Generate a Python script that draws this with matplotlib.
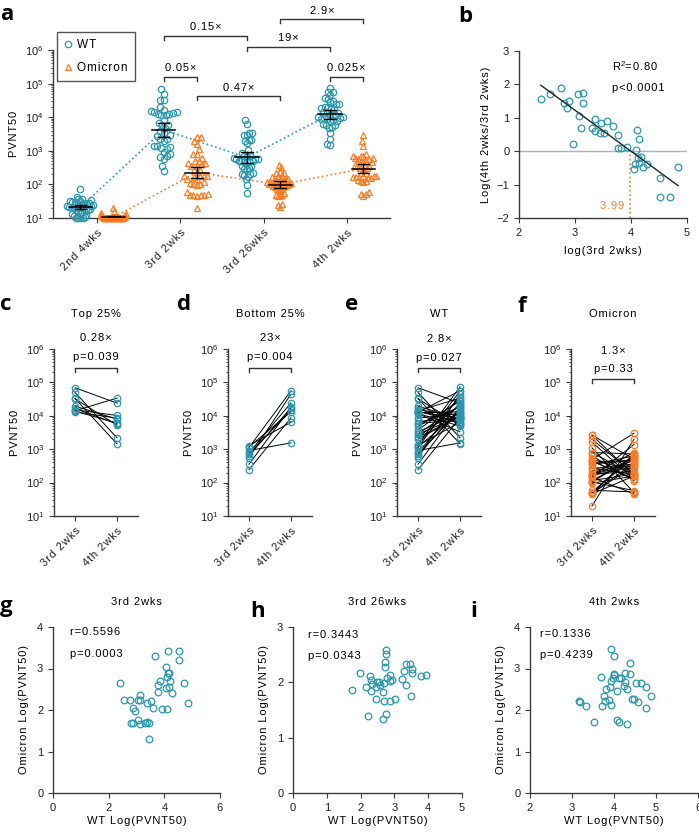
import numpy as np
import matplotlib
matplotlib.use('Agg')
import matplotlib.pyplot as plt
from matplotlib.ticker import LogLocator, LogFormatterMathtext, NullFormatter
from matplotlib.lines import Line2D

plt.rcParams['font.family'] = ['Liberation Sans', 'DejaVu Sans']
plt.rcParams['mathtext.default'] = 'regular'
plt.rcParams['font.size'] = 8
plt.rcParams['axes.linewidth'] = 1.0
plt.rcParams['axes.edgecolor'] = '#3a3a3a'
plt.rcParams['xtick.color'] = '#3a3a3a'
plt.rcParams['ytick.color'] = '#3a3a3a'
plt.rcParams['xtick.labelcolor'] = '#222222'
plt.rcParams['ytick.labelcolor'] = '#222222'
plt.rcParams['xtick.major.size'] = 3.5
plt.rcParams['ytick.major.size'] = 3.5
plt.rcParams['ytick.minor.size'] = 1.8
plt.rcParams['xtick.labelsize'] = 8
plt.rcParams['ytick.labelsize'] = 8

WT_COL = '#2a98b0'
OM_COL = '#ff7a22'

# log10 PVNT50 per subject (same subject order in every list, sorted by WT 3rd 2wks)
wt_3rd_2wks = [2.39, 2.55, 2.75, 2.81, 2.86, 2.89, 2.96, 3.05, 3.07, 3.11, 3.14, 3.14, 3.30,
               3.36, 3.36, 3.45, 3.46, 3.52, 3.58, 3.68, 3.76, 3.77, 3.83, 3.93, 4.06, 4.07,
               4.09, 4.11, 4.12, 4.14, 4.15, 4.18, 4.22, 4.29, 4.51, 4.52, 4.70, 4.84]
wt_4th_2wks = [3.94, 4.25, 4.65, 4.24, 4.16, 4.39, 3.19, 4.75, 4.12, 3.81, 4.87, 4.57, 4.00,
               4.31, 3.97, 3.99, 4.31, 4.07, 4.47, 4.44, 4.26, 3.88, 3.94, 4.07, 3.52, 3.69,
               4.12, 4.75, 3.93, 3.78, 4.53, 4.01, 3.76, 3.90, 3.72, 3.16, 3.34, 4.38]
om_3rd_2wks = [2.64, 2.25, 2.25, 1.69, 2.05, 1.69, 1.98, 2.24, 1.77, 2.36, 2.25, 1.66, 1.69,
               2.16, 1.72, 1.30, 1.68, 2.22, 2.06, 3.30, 2.60, 2.44, 2.69, 2.02, 3.04, 2.54,
               2.02, 2.80, 3.42, 2.90, 2.56, 2.90, 2.70, 2.42, 3.21, 3.42, 2.65, 2.16]
om_4th_2wks = [2.12, 2.90, 2.66, 2.58, 2.78, 2.86, 2.20, 2.56, 1.72, 2.50, 2.34, 2.20, 2.84,
               1.66, 2.76, 3.30, 2.50, 2.46, 2.26, 2.26, 2.68, 2.24, 3.48, 1.76, 1.70, 2.80,
               2.76, 2.06, 2.70, 2.22, 2.66, 2.86, 2.34, 2.56, 2.10, 2.22, 2.10, 3.14]
wt_3rd_26wks = [1.75, 1.98, 2.15, 2.21, 2.28, 2.31, 2.33, 2.31, 2.46, 2.46, 2.48, 2.55, 2.56,
                2.66, 2.66, 2.70, 2.70, 2.71, 2.71, 2.76, 2.76, 2.76, 2.78, 2.86, 2.86, 2.86,
                2.93, 3.01, 3.23, 3.28, 3.33, 3.33, 3.46, 3.48, 3.53, 3.53, 3.80, 3.93]
om_3rd_26wks = [1.86, 2.17, 1.91, 1.40, 2.12, 2.04, 1.97, 1.85, 1.69, 1.92, 2.01, 2.01, 1.96,
                1.82, 1.33, 1.99, 1.66, 2.27, 2.36, 2.58, 2.51, 1.42, 2.08, 2.14, 2.02, 1.66,
                2.04, 1.69, 2.06, 2.21, 2.33, 1.95, 2.33, 1.75, 2.25, 2.16, 2.11, 2.13]
wt_2nd_4wks = [1.85, 1.62, 1.58, 1.56, 1.54, 1.52, 1.50, 1.48, 1.47, 1.45, 1.44, 1.42, 1.41,
               1.40, 1.38, 1.37, 1.36, 1.35, 1.33, 1.32, 1.31, 1.30, 1.28, 1.27, 1.25, 1.24,
               1.22, 1.20, 1.18, 1.16, 1.13, 1.10, 1.07, 1.04, 1.0, 1.0, 1.0, 1.0]
om_2nd_4wks = [1.30, 1.20, 1.15, 1.12, 1.10, 1.08, 1.06, 1.05, 1.04, 1.03] + [1.0] * 28

timepoints = ['2nd 4wks', '3rd 2wks', '3rd 26wks', '4th 2wks']
fold_a = ['0.15\u00d7', '19\u00d7', '2.9\u00d7', '0.05\u00d7', '0.47\u00d7', '0.025\u00d7']
x_intercept = 3.99

W, H = 699, 833
fig = plt.figure(figsize=(W / 100, H / 100), dpi=100)


def sp(s):
    # Prism-style letter spacing
    return '\u200a'.join(s)


def axpx(l, t, r, b):
    return fig.add_axes([l / W, 1 - b / H, (r - l) / W, (b - t) / H])


def style(ax):
    ax.spines['top'].set_visible(False)
    ax.spines['right'].set_visible(False)


def logy(ax):
    ax.set_yscale('log')
    ax.set_ylim(10, 1e6)
    ax.yaxis.set_major_locator(LogLocator(base=10, numticks=10))
    ax.yaxis.set_major_formatter(LogFormatterMathtext())
    ax.yaxis.set_minor_locator(LogLocator(base=10, subs=np.arange(2, 10), numticks=20))
    ax.yaxis.set_minor_formatter(NullFormatter())


def swarm(ax, xc, vals, d=6.0, cap=13.0):
    pts = ax.transData.transform(np.column_stack([np.full(len(vals), xc), vals]))
    ypx = pts[:, 1]
    off = np.zeros(len(vals))
    placed = []
    for i in np.argsort(ypx):
        y = ypx[i]
        near = [(ox, oy) for ox, oy in placed if abs(oy - y) < d]
        cands = [0.0]
        for ox, oy in near:
            dx = np.sqrt(d * d - (oy - y) ** 2)
            cands += [ox - dx, ox + dx]
        cands.sort(key=abs)
        for c in cands:
            if all((c - ox) ** 2 + (y - oy) ** 2 >= d * d - 1e-6 for ox, oy in near):
                off[i] = c
                break
        placed.append((off[i], y))
    m = np.abs(off).max()
    if m > cap:
        off *= cap / m
    ppu = ax.transData.transform([(1, 1)])[0, 0] - ax.transData.transform([(0, 1)])[0, 0]
    return xc + off / ppu


def gm_ci(v):
    v = np.asarray(v)
    m = v.mean()
    se = v.std(ddof=1) / np.sqrt(len(v))
    return m, m - 2.026 * se, m + 2.026 * se


def bracket(ax, x1, x2, ylog, txt, tlog, h=0.12):
    ax.plot([x1, x1, x2, x2], 10 ** np.array([ylog - h, ylog, ylog, ylog - h]),
            color='#333333', lw=1.0, clip_on=False)
    ax.text((x1 + x2) / 2, 10 ** tlog, sp(txt), ha='center', va='center', fontsize=8)


# ---------------- panel a ----------------
ax = axpx(53, 50, 390, 218)
style(ax)
logy(ax)
ax.set_xlim(-0.53, 3.52)
wt_groups = [wt_2nd_4wks, wt_3rd_2wks, wt_3rd_26wks, wt_4th_2wks]
om_groups = [om_2nd_4wks, om_3rd_2wks, om_3rd_26wks, om_4th_2wks]
wt_pos = np.arange(4) - 0.2
om_pos = np.arange(4) + 0.2
wt_m, om_m = [], []
for k in range(4):
    for vals, xc, mk, col, store in [(wt_groups[k], wt_pos[k], 'o', WT_COL, wt_m),
                                     (om_groups[k], om_pos[k], '^', OM_COL, om_m)]:
        yv = 10 ** np.array(vals)
        xs = swarm(ax, xc, yv)
        ax.plot(xs, yv, ls='none', marker=mk, ms=4.6, mfc='none', mec=col, mew=0.9,
                clip_on=False, zorder=3)
        m, lo, hi = gm_ci(vals)
        store.append(m)
        ax.plot([xc - 0.14, xc + 0.14], [10 ** m] * 2, color='k', lw=1.1, zorder=4)
        ax.plot([xc, xc], [10 ** lo, 10 ** hi], color='k', lw=1.0, zorder=4)
        for yy in (lo, hi):
            ax.plot([xc - 0.07, xc + 0.07], [10 ** yy] * 2, color='k', lw=1.0, zorder=4)
ax.plot(wt_pos, 10 ** np.array(wt_m), ls=':', color=WT_COL, lw=1.2, zorder=2)
ax.plot(om_pos, 10 ** np.array(om_m), ls=':', color=OM_COL, lw=1.2, zorder=2)
ax.set_xticks(range(4))
ax.set_xticklabels([sp(t) for t in timepoints], rotation=45, ha='right',
                   rotation_mode='anchor')
ax.set_ylabel(sp('PVNT50'), labelpad=4)
bracket(ax, wt_pos[1], wt_pos[2], 6.42, fold_a[0], 6.68)
bracket(ax, wt_pos[2], wt_pos[3], 6.09, fold_a[1], 6.36)
bracket(ax, om_pos[2], om_pos[3], 6.92, fold_a[2], 7.15)
bracket(ax, wt_pos[1], om_pos[1], 5.20, fold_a[3], 5.46)
bracket(ax, om_pos[1], om_pos[2], 4.63, fold_a[4], 4.88)
bracket(ax, wt_pos[3], om_pos[3], 5.20, fold_a[5], 5.46)
handles = [Line2D([], [], ls='none', marker='o', ms=4.6, mfc='none', mec=WT_COL, mew=0.9),
           Line2D([], [], ls='none', marker='^', ms=4.6, mfc='none', mec=OM_COL, mew=0.9)]
leg = ax.legend(handles, [sp('WT'), sp('Omicron')], loc='upper left',
                bbox_to_anchor=(57 / W, 1 - 32 / H), bbox_transform=fig.transFigure,
                borderaxespad=0, fancybox=False, edgecolor='#555555', framealpha=1,
                fontsize=8.5, handlelength=0.6, handletextpad=0.5, labelspacing=0.9,
                borderpad=0.6)
leg.get_frame().set_linewidth(1.0)

# ---------------- panel b ----------------
bx = np.array(wt_3rd_2wks)
by = np.array(wt_4th_2wks) - bx
ax = axpx(519, 51, 687, 218)
style(ax)
ax.set_xlim(2, 5)
ax.set_ylim(-2, 3)
ax.set_xticks([2, 3, 4, 5])
ax.set_yticks(range(-2, 4))
ax.axhline(0, color='#b0b0b0', lw=1.0, zorder=1)
ax.plot(bx, by, ls='none', marker='o', ms=4.8, mfc='none', mec=WT_COL, mew=0.9, zorder=3)
sl, ic = np.polyfit(bx, by, 1)
xx = np.array([bx.min(), bx.max()])
ax.plot(xx, sl * xx + ic, color='#222222', lw=1.0, zorder=4)
ax.plot([x_intercept, x_intercept], [-2, 0], ls=':', color=OM_COL, lw=1.2)
ax.text(x_intercept - 0.12, -1.64, sp('%.2f' % x_intercept), color=OM_COL, ha='right',
        va='center', fontsize=8)
ax.text(3.66, 2.55, 'R$^{2}$' + sp('=0.80'), ha='left', va='center', fontsize=8)
ax.text(3.66, 1.89, sp('p<0.0001'), ha='left', va='center', fontsize=8)
ax.set_xlabel(sp('log(3rd 2wks)'), labelpad=6)
ax.set_ylabel(sp('Log(4th 2wks/3rd 2wks)'), labelpad=4)

# ---------------- panels c-f ----------------
order = np.argsort(wt_3rd_2wks)
top = order[-10:]
bot = order[:10]
w3, w4 = np.array(wt_3rd_2wks), np.array(wt_4th_2wks)
o3, o4 = np.array(om_3rd_2wks), np.array(om_4th_2wks)
paired = [
    (54, w3[top], w4[top], WT_COL, 'Top 25%', '0.28\u00d7', 'p=0.039', 6.33, 5.76, 5.43),
    (228, w3[bot], w4[bot], WT_COL, 'Bottom 25%', '23\u00d7', 'p=0.004', 6.33, 5.76, 5.43),
    (397, w3, w4, WT_COL, 'WT', '2.8\u00d7', 'p=0.027', 6.30, 5.73, 5.43),
    (571, o3, o4, OM_COL, 'Omicron', '1.3\u00d7', 'p=0.33', 5.94, 5.40, 5.10),
]
for left, a3, a4, col, title, fold, pv, fy, py, bly in paired:
    ax = axpx(left, 349, left + 84, 516)
    style(ax)
    logy(ax)
    ax.set_xlim(-0.5, 1.5)
    for u, v in zip(a3, a4):
        ax.plot([0, 1], [10 ** u, 10 ** v], color='k', lw=0.7, zorder=2)
    ax.plot(np.zeros(len(a3)), 10 ** a3, ls='none', marker='o', ms=4.6, mfc='none',
            mec=col, mew=0.9, zorder=3)
    ax.plot(np.ones(len(a4)), 10 ** a4, ls='none', marker='o', ms=4.6, mfc='none',
            mec=col, mew=0.9, zorder=3)
    ax.set_xticks([0, 1])
    ax.set_xticklabels([sp('3rd 2wks'), sp('4th 2wks')], rotation=45, ha='right',
                       rotation_mode='anchor')
    ax.set_ylabel(sp('PVNT50'), labelpad=4)
    ax.plot([0, 0, 1, 1], 10 ** np.array([bly - 0.12, bly, bly, bly - 0.12]),
            color='#333333', lw=1.0, clip_on=False)
    ax.text(0.5, 10 ** py, sp(pv), ha='center', va='center', fontsize=8)
    ax.text(0.5, 10 ** fy, sp(fold), ha='center', va='center', fontsize=8)
    ax.text(0.5, 1 + 35 / 167, sp(title), transform=ax.transAxes, ha='center', va='center',
            fontsize=8)

# ---------------- panels g-i ----------------
corr = [
    (53, 220, w3, o3, (0, 6), [0, 2, 4, 6], (0, 4), '3rd 2wks', 'r=0.5596', 'p=0.0003',
     0.6, 3.87, 3.35),
    (293, 462, np.array(wt_3rd_26wks), np.array(om_3rd_26wks), (0, 5), range(6), (0, 3),
     '3rd 26wks', 'r=0.3443', 'p=0.0343', 0.45, 2.85, 2.48),
    (530, 698, w4, o4, (2, 6), range(2, 7), (0, 4), '4th 2wks', 'r=0.1336', 'p=0.4239',
     2.24, 3.82, 3.32),
]
for l, r, xv, yv, xl, xt, yl, title, rt, pt, tx, ry, pyy in corr:
    ax = axpx(l, 627, r, 793)
    style(ax)
    ax.set_xlim(*xl)
    ax.set_ylim(*yl)
    ax.set_xticks(list(xt))
    ax.set_yticks(range(yl[0], yl[1] + 1))
    ax.plot(xv, yv, ls='none', marker='o', ms=4.8, mfc='none', mec=WT_COL, mew=0.9)
    ax.text(tx, ry, sp(rt), ha='left', va='center', fontsize=8)
    ax.text(tx, pyy, sp(pt), ha='left', va='center', fontsize=8)
    ax.set_xlabel(sp('WT Log(PVNT50)'), labelpad=2)
    ax.set_ylabel(sp('Omicron Log(PVNT50)'), labelpad=6)
    ax.text(0.5, 1 + 25 / 166, sp(title), transform=ax.transAxes, ha='center', va='center',
            fontsize=8)

# panel letters
for s, x, y in [('a', 0, 20), ('b', 458, 22), ('c', 0, 310), ('d', 177, 310),
                ('e', 345, 310), ('f', 518, 312), ('g', 0, 612), ('h', 250, 617),
                ('i', 470, 617)]:
    fig.text(x / W, 1 - y / H, s, fontsize=16, fontweight='bold', family='Open Sans',
             ha='left', va='baseline')

fig.savefig('out.png', dpi=100)
